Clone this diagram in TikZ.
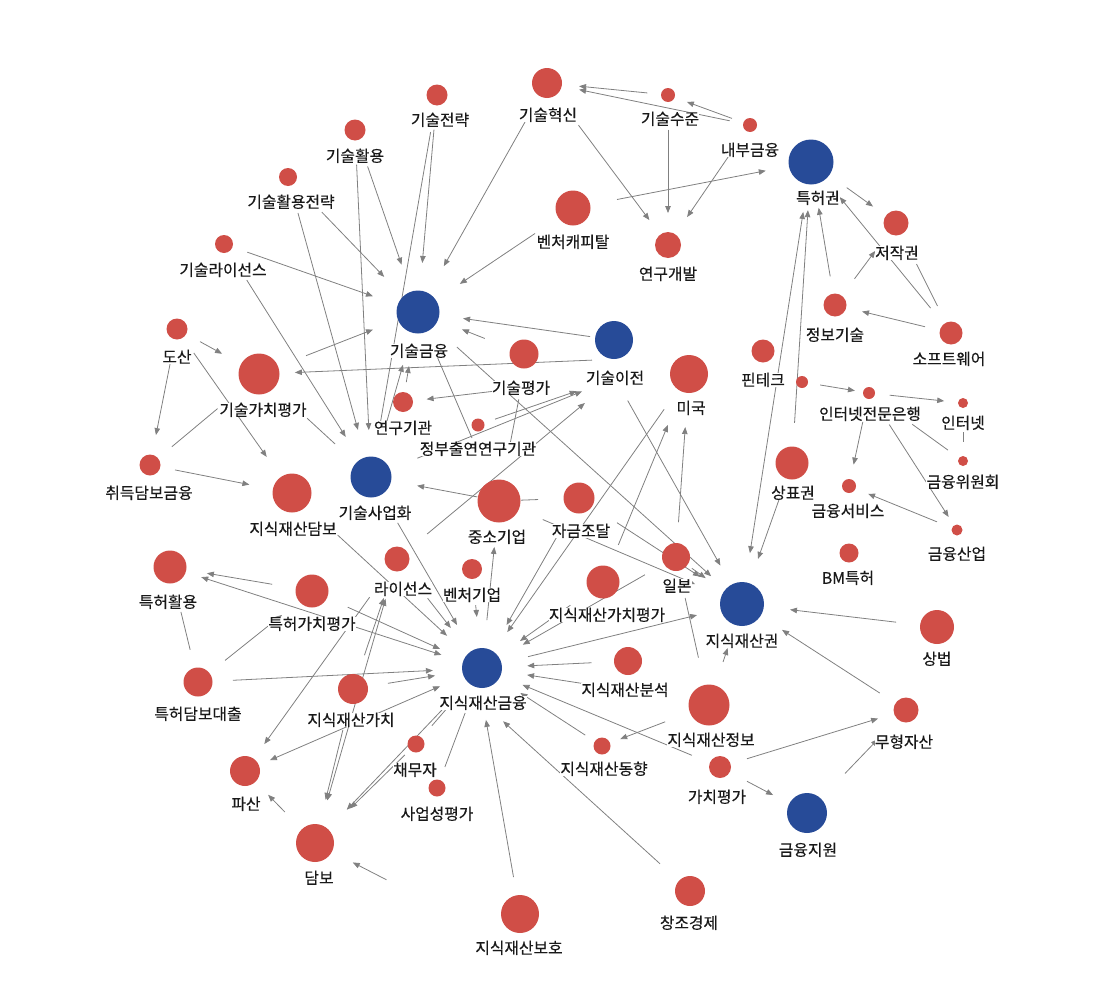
\documentclass[tikz,border=0pt]{standalone}
\usepackage{fontspec}
\setmainfont[FakeBold=0.3]{Noto Sans CJK KR}
\usetikzlibrary{calc,arrows.meta}
\pgfdeclarelayer{bg}
\pgfsetlayers{bg,main}
\definecolor{nred}{HTML}{D04E47}
\definecolor{nblue}{HTML}{274B98}
\definecolor{egray}{HTML}{808080}
\newcommand\edg[5]{\draw[#1] ($(#2)!#4!(#3)$) -- ($(#2)!#5!(#3)$);}
\begin{document}
\begin{tikzpicture}[x=1pt,y=-1pt,
  rn/.style={circle,fill=nred,inner sep=0pt,minimum size=#1},
  bn/.style={circle,fill=nblue,inner sep=0pt,minimum size=#1},
  lab/.style={fill=white,inner sep=0.3pt,text height=12.5pt,text depth=1pt,font=\fontsize{15.8}{17}\selectfont,text=black!90},
  ar/.style={draw=egray,line width=0.8pt,-{Triangle[length=7pt,width=5.5pt]}},
  pl/.style={draw=egray,line width=0.8pt},
  bi/.style={draw=egray,line width=0.8pt,{Triangle[length=7pt,width=5.5pt]}-{Triangle[length=7pt,width=5.5pt]}}]
\useasboundingbox (0,0) rectangle (1095,993);
% blue nodes
\node[bn=43pt] (gf) at (418,312) {};
\node[bn=38pt] (ti) at (614,340) {};
\node[bn=45pt] (pr) at (811,162) {};
\node[bn=41pt] (tc) at (371,477) {};
\node[bn=40pt] (jf) at (482,668) {};
\node[bn=44pt] (ipr) at (742,604) {};
\node[bn=40pt] (fs) at (807,813) {};
% red nodes
\node[rn=30pt] (inn) at (547,83) {};
\node[rn=14pt] (lev) at (668,95) {};
\node[rn=14pt] (intf) at (750,125) {};
\node[rn=21pt] (str) at (437,95) {};
\node[rn=21pt] (use) at (355,130) {};
\node[rn=18pt] (ust) at (288,177) {};
\node[rn=35pt] (vc) at (573,208) {};
\node[rn=26pt] (rd) at (668,245) {};
\node[rn=18pt] (lic) at (224,244) {};
\node[rn=25pt] (cop) at (896,223) {};
\node[rn=23pt] (it) at (835,305) {};
\node[rn=23pt] (sw) at (951,333) {};
\node[rn=21pt] (bk) at (177,329) {};
\node[rn=41pt] (tve) at (259,374) {};
\node[rn=29pt] (te) at (524,354) {};
\node[rn=20pt] (ri) at (403,402) {};
\node[rn=13pt] (gri) at (478,425) {};
\node[rn=38pt] (us) at (689,374) {};
\node[rn=23pt] (ft) at (763,351) {};
\node[rn=12pt] (ftx) at (802,382) {};
\node[rn=12pt] (ib) at (869,393) {};
\node[rn=10pt] (net) at (963,403) {};
\node[rn=10pt] (fsc) at (963,461) {};
\node[rn=33pt] (tm) at (792,463) {};
\node[rn=14pt] (fsv) at (849,486) {};
\node[rn=11pt] (fin) at (957,530) {};
\node[rn=19pt] (bm) at (849,553) {};
\node[rn=21pt] (acq) at (150,465) {};
\node[rn=39pt] (ipc) at (292,493) {};
\node[rn=43pt] (sme) at (499,501) {};
\node[rn=31pt] (fund) at (579,498) {};
\node[rn=25pt] (li) at (397,559) {};
\node[rn=20pt] (vb) at (472,569) {};
\node[rn=33pt] (pu) at (170,567) {};
\node[rn=33pt] (pve) at (312,591) {};
\node[rn=33pt] (ipve) at (603,582) {};
\node[rn=28pt] (jp) at (676,557) {};
\node[rn=34pt] (cl) at (937,627) {};
\node[rn=29pt] (pl) at (198,682) {};
\node[rn=28pt] (ipa) at (628,661) {};
\node[rn=30pt] (ipv) at (353,689) {};
\node[rn=41pt] (ipi) at (709,705) {};
\node[rn=25pt] (ia) at (906,710) {};
\node[rn=17pt] (db) at (416,744) {};
\node[rn=17pt] (ipt) at (602,746) {};
\node[rn=17pt] (bf) at (437,788) {};
\node[rn=22pt] (val) at (720,767) {};
\node[rn=30pt] (bkr) at (245,771) {};
\node[rn=38pt] (col) at (315,843) {};
\node[rn=30pt] (ce) at (690,891) {};
\node[rn=38pt] (ipp) at (520,914) {};
% labels
\node[lab] (Lgf) at (419,351) {기술금융};
\node[lab] (Lti) at (615,378) {기술이전};
\node[lab] (Lpr) at (818,198) {특허권};
\node[lab] (Ltc) at (375,513) {기술사업화};
\node[lab] (Ljf) at (483,703) {지식재산금융};
\node[lab] (Lipr) at (742,641) {지식재산권};
\node[lab] (Lfs) at (808,850) {금융지원};
\node[lab] (Linn) at (548,115) {기술혁신};
\node[lab] (Llev) at (670,119) {기술수준};
\node[lab] (Lintf) at (750,150) {내부금융};
\node[lab] (Lstr) at (440,120) {기술전략};
\node[lab] (Luse) at (355,156) {기술활용};
\node[lab] (Lust) at (291,202) {기술활용전략};
\node[lab] (Lvc) at (573,242) {벤처캐피탈};
\node[lab] (Lrd) at (668,274) {연구개발};
\node[lab] (Llic) at (223,270) {기술라이선스};
\node[lab] (Lcop) at (897,253) {저작권};
\node[lab] (Lit) at (835,335) {정보기술};
\node[lab] (Lsw) at (949,359) {소프트웨어};
\node[lab] (Lbk) at (177,357) {도산};
\node[lab] (Ltve) at (263,410) {기술가치평가};
\node[lab] (Lte) at (521,388) {기술평가};
\node[lab] (Lri) at (403,428) {연구기관};
\node[lab] (Lgri) at (478,449) {정부출연연구기관};
\node[lab] (Lus) at (691,408) {미국};
\node[lab] (Lft) at (763,380) {핀테크};
\node[lab] (Lib) at (870,414) {인터넷전문은행};
\node[lab] (Lnet) at (963,423) {인터넷};
\node[lab] (Lfsc) at (963,482) {금융위원회};
\node[lab] (Ltm) at (793,493) {상표권};
\node[lab] (Lfsv) at (848,511) {금융서비스};
\node[lab] (Lfin) at (957,554) {금융산업};
\node[lab] (Lbm) at (848,578) {BM특허};
\node[lab] (Lacq) at (149,493) {취득담보금융};
\node[lab] (Lipc) at (293,529) {지식재산담보};
\node[lab] (Lsme) at (497,537) {중소기업};
\node[lab] (Lfund) at (581,531) {자금조달};
\node[lab] (Lli) at (403,589) {라이선스};
\node[lab] (Lvb) at (472,595) {벤처기업};
\node[lab] (Lpu) at (168,602) {특허활용};
\node[lab] (Lpve) at (312,624) {특허가치평가};
\node[lab] (Lipve) at (607,615) {지식재산가치평가};
\node[lab] (Ljp) at (677,586) {일본};
\node[lab] (Lcl) at (937,659) {상법};
\node[lab] (Lpl) at (198,714) {특허담보대출};
\node[lab] (Lipa) at (625,690) {지식재산분석};
\node[lab] (Lipv) at (351,720) {지식재산가치};
\node[lab] (Lipi) at (711,740) {지식재산정보};
\node[lab] (Lia) at (904,742) {무형자산};
\node[lab] (Ldb) at (415,770) {채무자};
\node[lab] (Lipt) at (604,769) {지식재산동향};
\node[lab] (Lbf) at (437,814) {사업성평가};
\node[lab] (Lval) at (717,797) {가치평가};
\node[lab] (Lbkr) at (246,804) {파산};
\node[lab] (Lcol) at (319,878) {담보};
\node[lab] (Lce) at (689,923) {창조경제};
\node[lab] (Lipp) at (519,948) {지식재산보호};
% edges
\begin{pgfonlayer}{bg}
\edg{ar}{use}{gf}{0.20}{0.74}
\edg{ar}{use}{tc}{0.10}{0.865}
\edg{ar}{ust}{gf}{0.26}{0.74}
\edg{ar}{ust}{tc}{0.12}{0.843}
\edg{ar}{lic}{gf}{0.12}{0.768}
\edg{ar}{lic}{tc}{0.155}{0.828}
\edg{ar}{str}{gf}{0.16}{0.774}
\edg{pl}{str}{tc}{0.097}{0.86}
\edg{ar}{bk}{tve}{0.28}{0.55}
\edg{ar}{bk}{acq}{0.25}{0.78}
\edg{ar}{bk}{ipc}{0.146}{0.78}
\edg{ar}{tve}{gf}{0.296}{0.717}
\edg{ar}{ti.south}{tve}{0.062}{0.899}
\edg{ar}{acq}{ipc}{0.176}{0.70}
\edg{pl}{acq}{tve}{0.2}{0.62}
\edg{ar}{inn}{gf}{0.16}{0.80}
\edg{ar}{inn}{rd}{0.26}{0.846}
\edg{ar}{lev}{inn}{0.17}{0.735}
\edg{ar}{lev}{rd}{0.23}{0.787}
\edg{ar}{intf}{inn}{0.10}{0.842}
\edg{ar}{intf}{lev}{0.22}{0.77}
\edg{ar}{intf}{rd}{0.267}{0.767}
\edg{ar}{vc}{pr}{0.185}{0.81}
\edg{ar}{vc}{gf}{0.245}{0.73}
\edg{ar}{pr}{cop}{0.42}{0.73}
\edg{ar}{sw}{pr}{0.146}{0.795}
\edg{ar}{it}{pr}{0.2}{0.68}
\edg{ar}{it}{cop}{0.32}{0.66}
\edg{pl}{sw}{cop}{0.245}{0.627}
\edg{ar}{sw}{it}{0.224}{0.767}
\edg{ar}{tm}{pr}{0.133}{0.84}
\edg{bi}{pr}{ipr}{0.113}{0.885}
\edg{ar}{tm}{ipr}{0.227}{0.68}
\edg{ar}{ftx}{ib}{0.27}{0.79}
\edg{ar}{ib}{net}{0.22}{0.80}
\edg{ar}{ib}{fsv}{0.31}{0.77}
\edg{ar}{ib}{fin}{0.23}{0.905}
\edg{pl}{ib}{fsc}{0.46}{0.84}
\edg{pl}{net}{fsc}{0.5}{0.67}
\edg{ar}{fin}{fsv}{0.185}{0.824}
\edg{ar}{ti}{gf}{0.122}{0.77}
\edg{ar}{te}{gf}{0.37}{0.585}
\edg{ar}{Lte}{ri}{0.237}{0.80}
\edg{ar}{gf}{ipr}{0.12}{0.905}
\edg{pl}{gf}{sme}{0.243}{0.667}
\edg{pl}{Lte}{sme}{0.1}{0.49}
\edg{ar}{tc}{Lti}{0.19}{0.865}
\edg{ar}{gri}{Lti}{0.124}{0.72}
\edg{ar}{li}{Lti}{0.138}{0.862}
\edg{ar}{Lti}{ipr}{0.1}{0.83}
\edg{ar}{ri}{gf}{0.22}{0.40}
\edg{ar}{tc}{gf}{0.333}{0.68}
\edg{pl}{tve}{tc}{0.43}{0.68}
\edg{ar}{sme}{tc}{0.17}{0.64}
\edg{pl}{fund}{sme}{0.51}{0.725}
\edg{ar}{tc}{jf}{0.24}{0.775}
\edg{ar}{li}{jf}{0.36}{0.633}
\edg{ar}{ipc}{jf}{0.24}{0.816}
\edg{bi}{pu}{jf}{0.10}{0.87}
\edg{ar}{pve}{pu}{0.28}{0.74}
\edg{ar}{pve}{jf}{0.21}{0.753}
\edg{ar}{pl}{pve}{0.237}{0.737}
\edg{pl}{pu}{pl}{0.39}{0.72}
\edg{ar}{pl}{jf}{0.123}{0.827}
\edg{ar}{ipv}{jf}{0.27}{0.636}
\edg{bi}{bkr}{jf}{0.105}{0.823}
\edg{ar}{li}{bkr}{0.18}{0.873}
\edg{ar}{ipv}{li}{0.26}{0.70}
\edg{bi}{col}{li}{0.15}{0.86}
\edg{ar}{ipv}{col}{0.266}{0.72}
\edg{ar}{col}{bkr}{0.43}{0.67}
\edg{ar}{jf}{col}{0.2}{0.81}
\edg{ar}{db}{col}{0.11}{0.65}
\edg{pl}{db}{jf}{0.24}{0.47}
\edg{pl}{bf}{jf}{0.175}{0.625}
\edg{ar}{ipp}{Ljf}{0.175}{0.92}
\edg{ar}{ce}{Ljf}{0.145}{0.903}
\edg{ar}{val}{jf}{0.118}{0.83}
\edg{ar}{ipt}{jf}{0.14}{0.68}
\edg{ar}{ipa}{jf}{0.25}{0.69}
\edg{ar}{Lipa}{jf}{0.266}{0.685}
\edg{ar}{jf}{ipr}{0.177}{0.827}
\edg{ar}{ipi}{ipt}{0.41}{0.83}
\edg{ar}{ipve}{jf}{0.27}{0.686}
\edg{ar}{jp}{jf}{0.16}{0.79}
\edg{ar}{fund}{jf}{0.22}{0.747}
\edg{ar}{us}{jf}{0.12}{0.878}
\edg{ar}{ipve}{us}{0.178}{0.755}
\edg{ar}{jp}{us}{0.19}{0.71}
\edg{ar}{jf}{sme}{0.287}{0.725}
\edg{ar}{vb}{jf}{0.364}{0.485}
\edg{ar}{sme}{ipr}{0.18}{0.807}
\edg{ar}{fund}{ipr}{0.233}{0.742}
\edg{ar}{jp}{ipr}{0.24}{0.45}
\edg{pl}{jp}{ipi}{0.277}{0.68}
\edg{ar}{ipi}{ipr}{0.426}{0.564}
\edg{ar}{ia}{ipr}{0.16}{0.756}
\edg{ar}{cl}{ipr}{0.21}{0.754}
\edg{ar}{val}{ia}{0.145}{0.85}
\edg{ar}{val}{fs}{0.31}{0.61}
\edg{ar}{fs}{ia}{0.384}{0.717}
\edg{ar}{Lipp}{col}{0.65}{0.815}
\end{pgfonlayer}
\end{tikzpicture}
\end{document}
